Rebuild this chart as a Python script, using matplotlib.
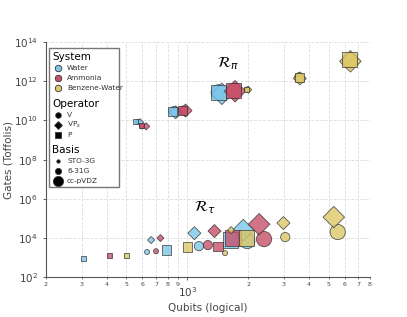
"""Toffoli gate counts vs logical qubits for the R_tau / R_pi encodings."""

import matplotlib
matplotlib.use("Agg")
import matplotlib.pyplot as plt
from matplotlib import ticker
from matplotlib.patches import Rectangle
import numpy as np

systems = ["Water", "Ammonia", "Benzene-Water"]
operators = ["V", "VP$_s$", "P"]
bases = ["STO-3G", "6-31G", "cc-pVDZ"]

# rows: operator (V, VP, P); columns: basis (STO-3G, 6-31G, cc-pVDZ)
water_tau_qubits = [[632, 1141, 1978], [662, 1083, 1890], [305, 786, 1630]]
water_tau_gates = [[1.9e3, 3.8e3, 6.9e3], [7.8e3, 1.74e4, 2.5e4], [9.3e2, 2.4e3, 7.8e3]]
ammonia_tau_qubits = [[700, 1264, 2395], [736, 1362, 2265], [410, 1419, 1680]]
ammonia_tau_gates = [[2.1e3, 4.3e3, 8.7e3], [9.8e3, 2.24e4, 5.0e4], [1.32e3, 3.8e3, 9.8e3]]
benzene_tau_qubits = [[1536, 3050, 5540], [1646, 2988, 5300], [498, 1000, 1957]]
benzene_tau_gates = [[1.66e3, 1.1e4, 2.0e4], [2.5e4, 5.75e4, 1.15e5], [1.32e3, 3.4e3, 9.8e3]]

water_pi_qubits = [[570, 855, 1430], [584, 875, 1483], [554, 847, 1427]]
water_pi_gates = [[8.5e9, 2.95e10, 2.75e11], [8.1e9, 2.6e10, 2.3e11], [9.1e9, 2.95e10, 2.75e11]]
ammonia_pi_qubits = [[598, 955, 1700], [626, 980, 1722], [592, 947, 1693]]
ammonia_pi_gates = [[5.0e9, 3.2e10, 3.3e11], [5.0e9, 3.2e10, 3.1e11], [5.4e9, 3.2e10, 3.3e11]]
benzene_pi_qubits = [[1970, 3575, 6370], [2000, 3600, 6400], [1970, 3575, 6350]]
benzene_pi_gates = [[3.8e11, 1.6e12, 1.17e13], [3.7e11, 1.4e12, 1.05e13], [3.8e11, 1.6e12, 1.26e13]]

colors = {"Water": "#7cc6ea", "Ammonia": "#c8506a", "Benzene-Water": "#dcc868"}
markers = ["o", "D", "s"]
sizes = [13, 44, 120]

data = {
    "Water": [(water_tau_qubits, water_tau_gates), (water_pi_qubits, water_pi_gates)],
    "Ammonia": [(ammonia_tau_qubits, ammonia_tau_gates), (ammonia_pi_qubits, ammonia_pi_gates)],
    "Benzene-Water": [(benzene_tau_qubits, benzene_tau_gates), (benzene_pi_qubits, benzene_pi_gates)],
}


def main() -> None:
    fig = plt.figure(figsize=(4.07, 3.17), dpi=100)
    ax = fig.add_axes([0.113, 0.126, 0.796, 0.741])

    for system in systems:
        for qubits, gates in data[system]:
            for i, mk in enumerate(markers):
                ax.scatter(qubits[i], gates[i], marker=mk, s=sizes,
                           color=colors[system], edgecolor="#333333",
                           linewidth=0.6, alpha=0.8, zorder=3)

    ax.set_xscale("log")
    ax.set_yscale("log")
    ax.set_xlim(200, 8000)
    ax.set_ylim(1e2, 1e14)
    ax.set_yticks([10.0 ** k for k in range(2, 15, 2)])
    ax.yaxis.set_minor_locator(ticker.NullLocator())
    ax.xaxis.set_minor_formatter(ticker.FuncFormatter(
        lambda v, _: f"{v / 10 ** np.floor(np.log10(v)):.0f}"))

    ax.tick_params(axis="both", which="major", labelsize=7.5, colors="#444444",
                   length=2.5, width=0.6)
    ax.tick_params(axis="x", which="minor", labelsize=4.5, colors="#444444",
                   length=1.5, width=0.5, pad=2)
    for side in ["top", "right"]:
        ax.spines[side].set_visible(False)
    for side in ["left", "bottom"]:
        ax.spines[side].set_color("#555555")
        ax.spines[side].set_linewidth(0.8)

    ax.grid(True, which="major", axis="y", ls="--", color="#dddddd", lw=0.6)
    ax.grid(True, which="both", axis="x", ls="--", color="#dddddd", lw=0.6)
    ax.set_axisbelow(True)

    ax.set_xlabel("Qubits (logical)", fontsize=7.5, color="#444444", labelpad=3)
    ax.set_ylabel("Gates (Toffolis)", fontsize=7.5, color="#444444")
    ax.yaxis.set_label_coords(-0.10, 0.5)

    ax.text(1593, 10 ** 12.9, r"$\mathcal{R}_\pi$", fontsize=11, ha="center", va="center")
    ax.text(1227, 10 ** 5.57, r"$\mathcal{R}_\tau$", fontsize=11, ha="center", va="center")

    # hand-built legend with section headers
    tr = ax.transAxes
    ax.add_patch(Rectangle((0.009, 0.383), 0.216, 0.591, transform=tr,
                           facecolor="white", edgecolor="#777777", lw=1.0,
                           zorder=5, clip_on=False))
    sections = [
        ("System", [(s, "o", colors[s], 22) for s in systems]),
        ("Operator", [(op, mk, "black", 16) for op, mk in zip(operators, markers)]),
        ("Basis", [(b, "o", "black", sz * 0.45) for b, sz in zip(bases, sizes)]),
    ]
    y = 0.935
    for header, entries in sections:
        ax.text(0.02, y, header, transform=tr, fontsize=7.5, va="center",
                ha="left", zorder=6)
        y -= 0.047
        for label, mk, col, sz in entries:
            ax.scatter([0.037], [y], transform=tr, marker=mk, s=sz, color=col,
                       edgecolor="#333333", linewidth=0.6, zorder=6, clip_on=False)
            ax.text(0.065, y, label, transform=tr, fontsize=5.3, va="center",
                    ha="left", color="#333333", zorder=6)
            y -= 0.0425
        y -= 0.022

    fig.savefig("out.png", dpi=100)


if __name__ == "__main__":
    main()
